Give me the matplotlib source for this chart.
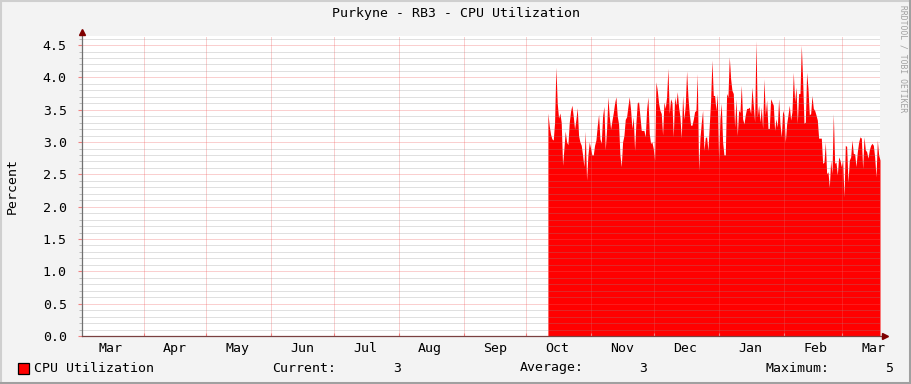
import matplotlib
matplotlib.use("Agg")
import matplotlib.pyplot as plt
import matplotlib.dates as mdates
from matplotlib.ticker import MultipleLocator, FormatStrFormatter, NullFormatter
from matplotlib.patches import Rectangle
from matplotlib.lines import Line2D
import numpy as np
from datetime import datetime

TITLE = "Purkyne - RB3 - CPU Utilization"
Y_LABEL = "Percent"
SERIES_NAME = "CPU Utilization"
WATERMARK = "RRDTOOL / TOBI OETIKER"

# time window of the graph
VIEW_START = datetime(2008, 3, 2, 14)
VIEW_END = datetime(2009, 3, 19, 1)
# first and last sample, samples evenly spaced in between
DATA_START = datetime(2008, 10, 11, 7)
DATA_END = datetime(2009, 3, 19, 1)

# CPU utilization (%), oldest first
cpu_util = [
    # Oct - Nov
    3.45, 3.25, 3.12, 3.05, 3.03, 3.30, 4.16, 3.60, 3.37, 3.45, 3.30, 2.64,
    2.90, 3.17, 3.00, 2.96, 3.30, 3.48, 3.57, 3.40, 3.20, 3.35, 3.53, 3.10,
    3.00, 2.95, 2.80, 2.62, 3.17, 2.41, 2.80, 3.00, 2.90, 2.80, 2.80, 2.95,
    3.03, 3.25, 3.43, 3.05, 2.98, 3.40, 3.55, 2.88, 3.20, 3.70, 3.40, 3.20,
    3.33, 3.45, 3.60, 3.70, 3.40, 3.28, 2.80, 2.62, 3.00, 3.10, 3.35, 3.39,
    3.55, 3.70,
    # Nov - Dec
    3.50, 3.21, 3.39, 2.87, 3.30, 3.61, 3.62, 3.40, 3.18, 3.18, 3.18, 3.08,
    3.50, 3.70, 3.13, 2.98, 3.00, 2.90, 2.72, 3.93, 3.80, 3.60, 3.49, 3.44,
    3.11, 3.62, 3.52, 3.70, 4.14, 3.44, 3.67, 3.61, 3.08, 3.70, 3.57, 3.78,
    3.54, 3.39, 3.06, 3.72, 3.35, 3.57, 4.10, 3.70, 3.44, 3.26, 3.26, 3.35,
    3.47, 3.49, 4.06, 2.56, 3.06, 3.30, 3.49, 2.87, 3.07, 3.08, 2.87, 3.26,
    # Dec - Jan
    3.65, 4.27, 3.72, 3.72, 3.49, 3.75, 2.72, 3.36, 3.60, 3.00, 2.80, 2.80,
    3.75, 3.70, 4.32, 3.98, 3.80, 3.75, 3.23, 3.67, 3.10, 3.49, 3.46, 3.88,
    3.36, 3.28, 3.42, 3.52, 3.52, 3.54, 3.44, 3.85, 3.57, 3.31, 4.57, 3.39,
    3.57, 3.31, 3.54, 3.21, 3.98, 3.42, 3.65, 3.21, 3.21, 3.67, 3.62, 3.57,
    3.18, 3.36, 3.23, 3.67, 3.28, 3.08, 3.49, 3.42, 3.00, 3.28, 3.42, 3.57,
    # Jan - Mar
    3.34, 3.47, 4.08, 3.62, 3.85, 3.29, 3.75, 3.75, 4.50, 3.96, 3.29, 3.31,
    4.08, 3.83, 3.42, 3.44, 3.72, 3.52, 3.49, 3.42, 3.34, 3.06, 3.06, 3.06,
    2.67, 2.69, 3.00, 2.51, 2.54, 2.30, 2.72, 2.51, 3.44, 2.67, 2.69, 2.49,
    2.77, 2.72, 2.62, 2.72, 2.15, 2.95, 2.93, 2.38, 2.72, 2.77, 3.03, 2.82,
    2.82, 2.62, 2.85, 3.00, 3.08, 3.06, 2.59, 3.08, 2.88, 2.85, 2.75, 2.88,
    2.95, 2.98, 2.95, 2.77, 2.46, 3.03, 2.80, 2.72,
]

MONO = "DejaVu Sans Mono"
FS = 9.5
BACK = "#f3f3f3"
RED = "#ff0000"
ARROW = "#7f0000"

W, H = 911, 384
fig = plt.figure(figsize=(W / 100, H / 100), dpi=100, facecolor=BACK)

# 3d-ish frame around the image
fig.add_artist(Line2D([0, 1], [1 - 1 / H, 1 - 1 / H], color="#cfcfcf", lw=1.5))
fig.add_artist(Line2D([1 / W, 1 / W], [0, 1], color="#cfcfcf", lw=1.5))
fig.add_artist(Line2D([0, 1], [1.5 / H, 1.5 / H], color="#a0a0a0", lw=2.2))
fig.add_artist(Line2D([1 - 1.5 / W, 1 - 1.5 / W], [0, 1], color="#a0a0a0", lw=2.2))

ax = fig.add_axes([82 / W, 48 / H, 798 / W, 300 / H])
ax.set_facecolor("white")

t = np.linspace(mdates.date2num(DATA_START), mdates.date2num(DATA_END), len(cpu_util))
ax.fill_between(t, 0, cpu_util, color=RED, lw=0, zorder=1)

ax.set_xlim(mdates.date2num(VIEW_START), mdates.date2num(VIEW_END))
ax.set_ylim(0, 4.64)

# y axis
ax.yaxis.set_major_locator(MultipleLocator(0.5))
ax.yaxis.set_minor_locator(MultipleLocator(0.1))
ax.yaxis.set_major_formatter(FormatStrFormatter("%.1f"))
ax.tick_params(axis="y", which="major", length=3, color="#f08080", pad=8,
               labelsize=FS, labelfontfamily=MONO)
ax.tick_params(axis="y", which="minor", length=2, color="#b0b0b0")

# x axis: gridlines at month starts, labels mid month
ax.xaxis.set_major_locator(mdates.MonthLocator())
ax.xaxis.set_major_formatter(NullFormatter())
ax.xaxis.set_minor_locator(mdates.MonthLocator(bymonthday=16))
ax.xaxis.set_minor_formatter(mdates.DateFormatter("%b"))
ax.tick_params(axis="x", which="major", length=2, color="#f08080", direction="in")
ax.tick_params(axis="x", which="minor", length=0, pad=4,
               labelsize=FS, labelfontfamily=MONO)

ax.set_axisbelow(False)
ax.grid(which="minor", axis="y", color="#909090", alpha=0.55, lw=0.72,
        linestyle=(0, (1, 1)), zorder=2)
ax.grid(which="major", axis="y", color="#f06060", alpha=0.6, lw=0.72,
        linestyle=(0, (1, 1)), zorder=3)
ax.grid(which="major", axis="x", color="#f06060", alpha=0.6, lw=0.72,
        linestyle=(0, (1, 1)), zorder=3)

for side in ["top", "right", "left", "bottom"]:
    ax.spines[side].set_visible(False)

# axis lines with arrows
ax.plot([0, 0], [0, 1 + 3 / 300], transform=ax.transAxes, color="#707070",
        lw=0.9, clip_on=False, zorder=5)
ax.plot([0, 1 + 4 / 798], [0, 0], transform=ax.transAxes, color="#7a4040",
        lw=0.9, clip_on=False, zorder=5)
ax.plot([0], [1 + 4 / 300], transform=ax.transAxes, marker="^", ms=4.5,
        color=ARROW, clip_on=False, zorder=6)
ax.plot([1 + 5 / 798], [0], transform=ax.transAxes, marker=">", ms=4.5,
        color=ARROW, clip_on=False, zorder=6)

fig.text(0.5, 1 - 14 / H, TITLE, ha="center", va="center", family=MONO, fontsize=FS)
fig.text(12 / W, 1 - 186 / H, Y_LABEL, ha="center", va="center", rotation=90,
         family=MONO, fontsize=FS)
fig.text(903 / W, 1 - 5 / H, WATERMARK, ha="center", va="top", rotation=270,
         family=MONO, fontsize=5.8, color="#a0a0a0")

# legend row
ly = 1 - 368 / H
fig.add_artist(Rectangle((18 / W, ly - 5.5 / H), 11 / W, 11 / H, facecolor=RED,
                         edgecolor="black", lw=0.9, transform=fig.transFigure))
fig.text(34 / W, ly, SERIES_NAME, ha="left", va="center", family=MONO, fontsize=FS)

current = cpu_util[-1]
average = float(np.mean(cpu_util))
maximum = max(cpu_util)
fig.text(272 / W, ly, "Current:", ha="left", va="center", family=MONO, fontsize=FS)
fig.text(401 / W, ly, f"{current:.0f}", ha="right", va="center", family=MONO, fontsize=FS)
fig.text(520 / W, ly, "Average:", ha="left", va="center", family=MONO, fontsize=FS)
fig.text(647 / W, ly, f"{average:.0f}", ha="right", va="center", family=MONO, fontsize=FS)
fig.text(765 / W, ly, "Maximum:", ha="left", va="center", family=MONO, fontsize=FS)
fig.text(893 / W, ly, f"{maximum:.0f}", ha="right", va="center", family=MONO, fontsize=FS)

fig.savefig("out.png", dpi=100, facecolor=BACK)
